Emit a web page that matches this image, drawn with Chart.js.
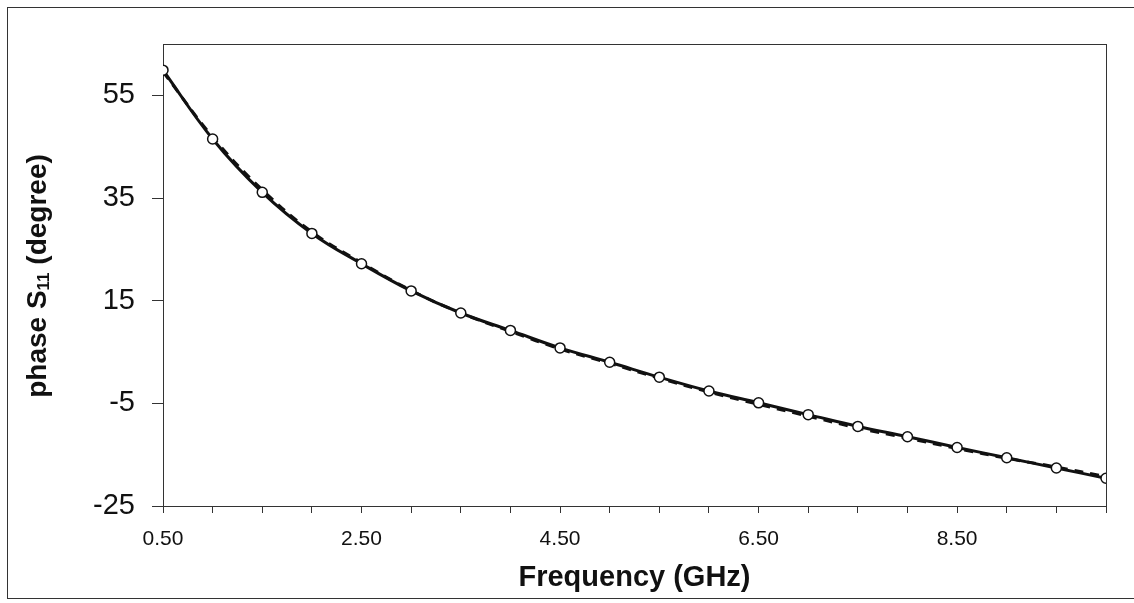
<!DOCTYPE html>
<html>
<head>
<meta charset="utf-8">
<script src="https://cdn.jsdelivr.net/npm/chart.js@4.4.0/dist/chart.umd.min.js"></script>
<style>
body { margin: 0; background: #fff; overflow: hidden; }
#wrap { position: relative; width: 1134px; height: 603px; }
#frame { position: absolute; left: 7px; top: 7px; width: 1140px; height: 590px;
         border-left: 1px solid #333; border-top: 1px solid #333; border-bottom: 1px solid #333; }
canvas { position: absolute; left: 0; top: 0; }
</style>
</head>
<body>
<div id="wrap"><div id="frame"></div><canvas id="phaseChart" width="1134" height="603"></canvas></div>
<script>
const freqGHz = [0.5, 1.0, 1.5, 2.0, 2.5, 3.0, 3.5, 4.0, 4.5, 5.0, 5.5, 6.0, 6.5, 7.0, 7.5, 8.0, 8.5, 9.0, 9.5, 10.0];
const phaseMarked = [59.9, 46.5, 36.1, 28.1, 22.2, 16.9, 12.6, 9.2, 5.8, 3.0, 0.1, -2.6, -4.9, -7.2, -9.5, -11.5, -13.6, -15.6, -17.6, -19.6];
const phaseDashed = [59.6, 46.9, 36.6, 28.4, 22.4, 17.0, 12.6, 9.0, 5.6, 2.8, -0.1, -2.8, -5.2, -7.5, -9.8, -11.8, -13.8, -15.7, -17.4, -19.3];
const yTickValues = [-25, -5, 15, 35, 55];
const xTickValues = [0.5, 1.0, 1.5, 2.0, 2.5, 3.0, 3.5, 4.0, 4.5, 5.0, 5.5, 6.0, 6.5, 7.0, 7.5, 8.0, 8.5, 9.0, 9.5, 10.0];
const xLabelValues = [0.5, 2.5, 4.5, 6.5, 8.5];
const ink = '#111';

const toPoints = (ys) => freqGHz.map((f, i) => ({x: f, y: ys[i]}));

// box round the plot area and the y title with its subscript
const plotExtras = {
    id: 'plotExtras',
    beforeDatasetsDraw(chart) {
        const {ctx, chartArea: a} = chart;
        ctx.save();
        ctx.strokeStyle = '#333';
        ctx.lineWidth = 1;
        ctx.strokeRect(a.left + 0.5, a.top + 0.5, a.right - a.left, a.bottom - a.top);
        ctx.restore();
    },
    afterDraw(chart) {
        const ctx = chart.ctx;
        const big = 'bold 28px "Liberation Sans", Arial, sans-serif';
        const small = 'bold 17px "Liberation Sans", Arial, sans-serif';
        ctx.save();
        ctx.translate(38, 276);
        ctx.rotate(-Math.PI / 2);
        ctx.fillStyle = ink;
        ctx.textBaseline = 'middle';
        ctx.font = big;
        const w1 = ctx.measureText('phase S').width;
        const w3 = ctx.measureText(' (degree)').width;
        ctx.font = small;
        const w2 = ctx.measureText('11').width;
        let x = -(w1 + w2 + w3) / 2;
        ctx.font = big;
        ctx.fillText('phase S', x, 0);
        x += w1;
        ctx.font = small;
        ctx.fillText('11', x, 6);
        x += w2;
        ctx.font = big;
        ctx.fillText(' (degree)', x, 0);
        ctx.restore();
    }
};

new Chart(document.getElementById('phaseChart'), {
    type: 'line',
    data: {
        datasets: [{
            data: toPoints(phaseMarked),
            borderColor: ink,
            borderWidth: 3,
            tension: 0.4,
            pointRadius: 5,
            pointBorderWidth: 1.5,
            pointBackgroundColor: '#fff',
            pointBorderColor: ink
        }, {
            data: toPoints(phaseDashed),
            borderColor: ink,
            borderWidth: 3,
            borderDash: [9, 7],
            tension: 0.4,
            pointRadius: 0
        }]
    },
    options: {
        responsive: false,
        animation: false,
        devicePixelRatio: 1,
        layout: { padding: { top: 44, right: 28, left: 0, bottom: 0 } },
        plugins: { legend: { display: false }, tooltip: { enabled: false } },
        scales: {
            x: {
                type: 'linear',
                min: 0.5,
                max: 10.0,
                afterFit: (s) => { s.height = 97; },
                afterBuildTicks: (s) => { s.ticks = xTickValues.map(v => ({value: v})); },
                grid: { drawOnChartArea: false, drawTicks: true, tickLength: 7, color: '#333' },
                border: { display: true, color: '#333', width: 1 },
                ticks: {
                    color: ink,
                    padding: 14,
                    maxRotation: 0,
                    autoSkip: false,
                    font: { family: '"Liberation Sans", Arial, sans-serif', size: 21 },
                    callback: (v) => xLabelValues.includes(v) ? v.toFixed(2) : ''
                },
                title: {
                    display: true,
                    text: 'Frequency (GHz)',
                    color: ink,
                    padding: { top: 0, bottom: 8 },
                    font: { family: '"Liberation Sans", Arial, sans-serif', size: 29, weight: 'bold' }
                }
            },
            y: {
                min: -25,
                max: 65,
                afterFit: (s) => { s.width = 163; },
                afterBuildTicks: (s) => { s.ticks = yTickValues.map(v => ({value: v})); },
                grid: { drawOnChartArea: false, drawTicks: true, tickLength: 11, color: '#333' },
                border: { display: true, color: '#333', width: 1 },
                ticks: {
                    color: ink,
                    padding: 17,
                    font: { family: '"Liberation Sans", Arial, sans-serif', size: 29 }
                }
            }
        }
    },
    plugins: [plotExtras]
});
</script>
</body>
</html>
